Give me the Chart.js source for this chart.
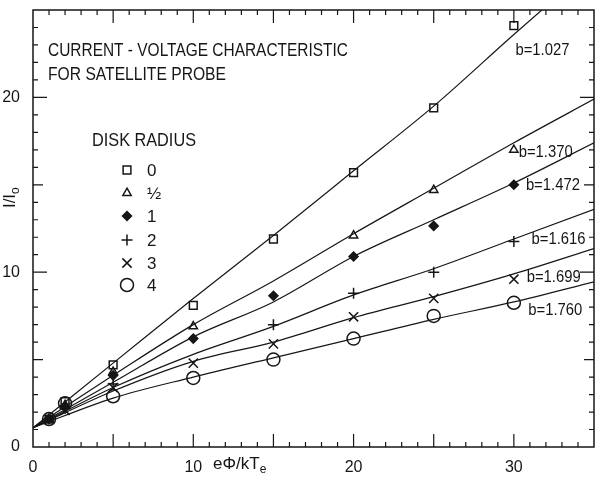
<!DOCTYPE html>
<html>
<head>
<meta charset="utf-8">
<script src="https://cdn.jsdelivr.net/npm/chart.js@4.4.1/dist/chart.umd.min.js"></script>
<style>
  html, body { margin: 0; padding: 0; background: #fff; }
  #wrap { width: 602px; height: 479px; }
</style>
</head>
<body>
<div id="wrap"><canvas id="probe-chart" width="602" height="479"></canvas></div>
<script>
// measured points, e*phi/kTe on x, I/I0 on y, one array per disk radius
const pointX = [1, 2, 5, 10, 15, 20, 25, 30];
const radius0    = [1.6, 2.6, 4.7, 8.1, 11.9, 15.7, 19.4, 24.1];
const radiusHalf = [1.6, 2.4, 4.3, 6.9, null, 12.1, 14.7, 17.0];
const radius1    = [1.6, 2.3, 4.1, 6.2, 8.65, 10.9, 12.65, 15.0];
const radius2    = [1.6, 2.2, 3.6, null, 7.0, 8.8, 10.0, 11.75];
const radius3    = [1.6, 2.1, 3.4, 4.8, 5.9, 7.45, 8.5, 9.6];
const radius4    = [1.6, 2.5, 2.9, 3.95, 5.0, 6.2, 7.5, 8.25];

// fitted curves
const fitX = [0, 5, 10, 15, 20, 25, 30, 35];
const fit0    = [1.1, 4.8, 8.5, 12.1, 15.8, 19.5, 23.6, 27.6];
const fitHalf = [1.1, 4.1, 7.0, 9.5, 12.2, 14.8, 17.4, 19.9];
const fit1    = [1.1, 3.7, 6.3, 8.3, 10.9, 13.0, 15.1, 17.4];
const fit2    = [1.1, 3.4, 5.3, 6.9, 8.7, 10.2, 11.9, 13.6];
const fit3    = [1.1, 3.2, 4.9, 6.0, 7.4, 8.6, 9.9, 11.35];
const fit4    = [1.1, 2.8, 4.0, 5.1, 6.2, 7.3, 8.3, 9.45];

const radiusLabels = ['0', '\u00BD', '1', '2', '3', '4'];
const bValues = ['b=1.027', 'b=1.370', 'b=1.472', 'b=1.616', 'b=1.699', 'b=1.760'];
const xTickValues = [0, 10, 20, 30];
const yTickValues = [0, 10, 20];

const INK = '#161616';
const FONT = '"Liberation Sans", Arial, sans-serif';

// marker look for each radius
const markers = [
    { pointStyle: 'rect',      radius: 5.5, filled: false },
    { pointStyle: 'triangle',  radius: 4.8, filled: false },
    { pointStyle: 'rectRot',   radius: 4.5, filled: true },
    { pointStyle: 'cross',     radius: 5.5, filled: false },
    { pointStyle: 'crossRot',  radius: 6.5, filled: false },
    { pointStyle: 'circle',    radius: 6.5, filled: false }
];

const pointSeries = [radius0, radiusHalf, radius1, radius2, radius3, radius4];
const fitSeries = [fit0, fitHalf, fit1, fit2, fit3, fit4];

// b label anchors in data units (x, baseline y)
const bLabelX = [30.1, 30.3, 30.75, 31.1, 30.8, 30.9];
const bLabelY = [22.45, 16.6, 14.7, 11.6, 9.45, 7.55];

const toPoints = (xs, ys) => xs.map((x, i) => ({ x: x, y: ys[i] })).filter(p => p.y !== null);

const datasets = [];
fitSeries.forEach(ys => {
    datasets.push({
        data: toPoints(fitX, ys),
        showLine: true,
        borderColor: INK,
        borderWidth: 1.2,
        pointRadius: 0,
        cubicInterpolationMode: 'monotone'
    });
});
pointSeries.forEach((ys, i) => {
    const m = markers[i];
    datasets.push({
        data: toPoints(pointX, ys),
        showLine: false,
        pointStyle: m.pointStyle,
        pointRadius: m.radius,
        pointBorderWidth: 1.5,
        pointBorderColor: INK,
        pointBackgroundColor: m.filled ? INK : 'rgba(0,0,0,0)'
    });
});

function drawText(ctx, str, x, y, size, maxW) {
    ctx.font = size + 'px ' + FONT;
    if (maxW) ctx.fillText(str, x, y, maxW); else ctx.fillText(str, x, y);
}

// frame, inward ticks and all the annotation text
const decorations = {
    id: 'decorations',
    afterDraw(chart) {
        const { ctx, chartArea: a, scales } = chart;
        const xs = scales.x, ys = scales.y;
        ctx.save();
        ctx.strokeStyle = INK;
        ctx.fillStyle = INK;
        ctx.lineWidth = 1.5;
        ctx.strokeRect(a.left, a.top, a.right - a.left, a.bottom - a.top);

        ctx.lineWidth = 1.2;
        ctx.beginPath();
        for (let v = 1; v < 35; v++) {
            const px = xs.getPixelForValue(v);
            const len = v % 5 === 0 ? 13 : 5;
            ctx.moveTo(px, a.bottom); ctx.lineTo(px, a.bottom - len);
            ctx.moveTo(px, a.top); ctx.lineTo(px, a.top + len);
        }
        for (let v = 1; v < 25; v++) {
            const py = ys.getPixelForValue(v);
            const len = v % 10 === 0 ? 14 : (v % 5 === 0 ? 10 : 5);
            ctx.moveTo(a.left, py); ctx.lineTo(a.left + len, py);
            ctx.moveTo(a.right, py); ctx.lineTo(a.right - len, py);
        }
        ctx.stroke();

        ctx.textAlign = 'left';
        ctx.textBaseline = 'alphabetic';
        drawText(ctx, 'CURRENT - VOLTAGE CHARACTERISTIC', 48, 56, 18, 300);
        drawText(ctx, 'FOR SATELLITE PROBE', 48, 80, 18, 178);
        drawText(ctx, 'DISK RADIUS', 92, 146, 18, 104);

        // legend of markers
        const rowY = [170, 193, 216, 240, 263, 285];
        radiusLabels.forEach((lab, i) => {
            const m = markers[i];
            ctx.fillStyle = m.filled ? INK : 'rgba(0,0,0,0)';
            ctx.strokeStyle = INK;
            ctx.lineWidth = 1.5;
            Chart.helpers.drawPoint(ctx, { pointStyle: m.pointStyle, radius: m.radius, rotation: 0, borderWidth: 1.5 }, 127, rowY[i]);
            ctx.fillStyle = INK;
            drawText(ctx, lab, 147, rowY[i] + 6, 17);
        });

        bValues.forEach((lab, i) => {
            drawText(ctx, lab, xs.getPixelForValue(bLabelX[i]), ys.getPixelForValue(bLabelY[i]), 16, 54);
        });

        // x axis title: e phi / kTe
        drawText(ctx, 'e\u03A6/kT', 213, 469, 17);
        ctx.font = '17px ' + FONT;
        const w = ctx.measureText('e\u03A6/kT').width;
        drawText(ctx, 'e', 213 + w, 473, 12);

        // y axis title: I/I0, rotated
        ctx.translate(15, 198);
        ctx.rotate(-Math.PI / 2);
        ctx.textAlign = 'left';
        ctx.font = '17px ' + FONT;
        const t = 'I/I';
        const tw = ctx.measureText(t).width;
        ctx.fillText(t, -(tw + 6) / 2, 0);
        drawText(ctx, 'o', -(tw + 6) / 2 + tw, 4, 12);
        ctx.restore();
    }
};

const ctx = document.getElementById('probe-chart').getContext('2d');
const probeChart = new Chart(ctx, {
    type: 'scatter',
    data: { datasets: datasets },
    options: {
        responsive: false,
        animation: false,
        layout: { padding: { top: 10, right: 5, left: 0, bottom: 0 } },
        plugins: { legend: { display: false }, tooltip: { enabled: false } },
        scales: {
            x: {
                type: 'linear',
                min: 0, max: 35,
                afterBuildTicks: s => { s.ticks = xTickValues.map(v => ({ value: v })); },
                afterFit: s => { s.height = 32; s.paddingLeft = 0; s.paddingRight = 0; },
                grid: { display: false },
                border: { display: false },
                ticks: { color: INK, font: { family: FONT, size: 16 }, padding: 3, maxRotation: 0, autoSkip: false }
            },
            y: {
                type: 'linear',
                min: 0, max: 25,
                afterBuildTicks: s => { s.ticks = yTickValues.map(v => ({ value: v })); },
                afterFit: s => { s.width = 33; s.paddingTop = 0; s.paddingBottom = 0; },
                grid: { display: false },
                border: { display: false },
                ticks: { color: INK, font: { family: FONT, size: 16 }, padding: 5, autoSkip: false }
            }
        }
    },
    plugins: [decorations]
});
</script>
</body>
</html>
